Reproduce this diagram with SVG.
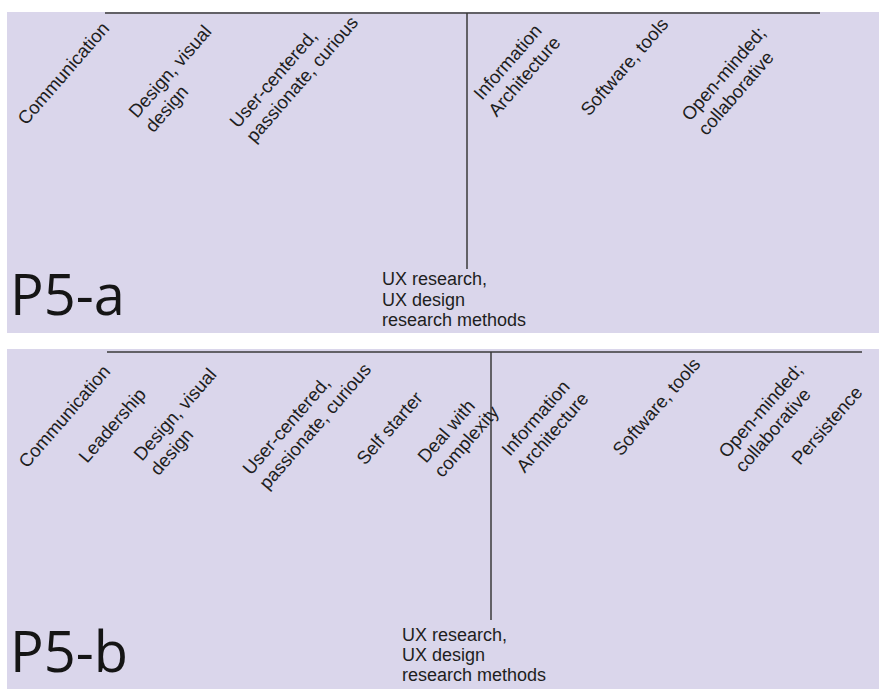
<svg xmlns="http://www.w3.org/2000/svg" width="879" height="689" viewBox="0 0 879 689">
<style>
.bg{fill:#dad6eb}
.ln{stroke:#3a3a3a;stroke-width:1.5;fill:none}
.lb{font-family:"Liberation Sans",Arial,sans-serif;font-size:18.5px;fill:#1e1e1e}
.ux{font-family:"Liberation Sans",Arial,sans-serif;font-size:18px;fill:#1e1e1e}
.big{font-family:"Open Sans","Noto Sans",sans-serif;font-size:56px;fill:#151515}
</style>
<rect x="0" y="0" width="879" height="689" fill="#ffffff"/>
<g id="panel-a">
<rect class="bg" x="7" y="12" width="872" height="321"/>
<text class="big" x="10" y="315">P5-a</text>
</g>
<g id="panel-b">
<rect class="bg" x="7" y="349" width="872" height="340"/>
<text class="big" x="10" y="672">P5-b</text>
</g>
<g id="connectors">
<line class="ln" x1="105" y1="13" x2="820" y2="13"/>
<line class="ln" x1="467" y1="13" x2="467" y2="269"/>
<line class="ln" x1="107" y1="352" x2="862" y2="352"/>
<line class="ln" x1="491" y1="352" x2="491" y2="620"/>
</g>
<g id="a-communication"><text class="lb" transform="translate(26,126) rotate(-49)">Communication</text></g>
<g id="a-design"><text class="lb" transform="translate(137,119) rotate(-49)"><tspan x="0" y="0">Design, visual</tspan><tspan x="0" y="22">design</tspan></text></g>
<g id="a-user"><text class="lb" transform="translate(238,129) rotate(-49)"><tspan x="0" y="0">User-centered,</tspan><tspan x="0" y="22">passionate, curious</tspan></text></g>
<g id="a-ia"><text class="lb" transform="translate(482,101) rotate(-49)"><tspan x="0" y="0">Information</tspan><tspan x="-3" y="22">Architecture</tspan></text></g>
<g id="a-software"><text class="lb" transform="translate(589,117) rotate(-49)">Software, tools</text></g>
<g id="a-open"><text class="lb" transform="translate(690,122) rotate(-49)"><tspan x="0" y="0">Open-minded;</tspan><tspan x="0" y="22">collaborative</tspan></text></g>
<g id="a-ux"><text class="ux"><tspan x="382" y="285">UX research,</tspan><tspan x="382" y="305.5">UX design</tspan><tspan x="382" y="326">research methods</tspan></text></g>
<g id="b-communication"><text class="lb" transform="translate(27,469) rotate(-49)">Communication</text></g>
<g id="b-leadership"><text class="lb" transform="translate(87,464) rotate(-49)">Leadership</text></g>
<g id="b-design"><text class="lb" transform="translate(142,462) rotate(-49)"><tspan x="0" y="0">Design, visual</tspan><tspan x="0" y="22">design</tspan></text></g>
<g id="b-user"><text class="lb" transform="translate(251,476) rotate(-49)"><tspan x="0" y="0">User-centered,</tspan><tspan x="0" y="22">passionate, curious</tspan></text></g>
<g id="b-self"><text class="lb" transform="translate(365,466) rotate(-49)">Self starter</text></g>
<g id="b-deal"><text class="lb" transform="translate(426,464) rotate(-49)"><tspan x="0" y="0">Deal with</tspan><tspan x="0" y="22">complexity</tspan></text></g>
<g id="b-ia"><text class="lb" transform="translate(510,457) rotate(-49)"><tspan x="0" y="0">Information</tspan><tspan x="-3" y="22">Architecture</tspan></text></g>
<g id="b-software"><text class="lb" transform="translate(621,457) rotate(-49)">Software, tools</text></g>
<g id="b-open"><text class="lb" transform="translate(727,459) rotate(-49)"><tspan x="0" y="0">Open-minded;</tspan><tspan x="0" y="22">collaborative</tspan></text></g>
<g id="b-persistence"><text class="lb" transform="translate(800,466) rotate(-49)">Persistence</text></g>
<g id="b-ux"><text class="ux"><tspan x="402" y="641">UX research,</tspan><tspan x="402" y="661">UX design</tspan><tspan x="402" y="681">research methods</tspan></text></g>
</svg>
